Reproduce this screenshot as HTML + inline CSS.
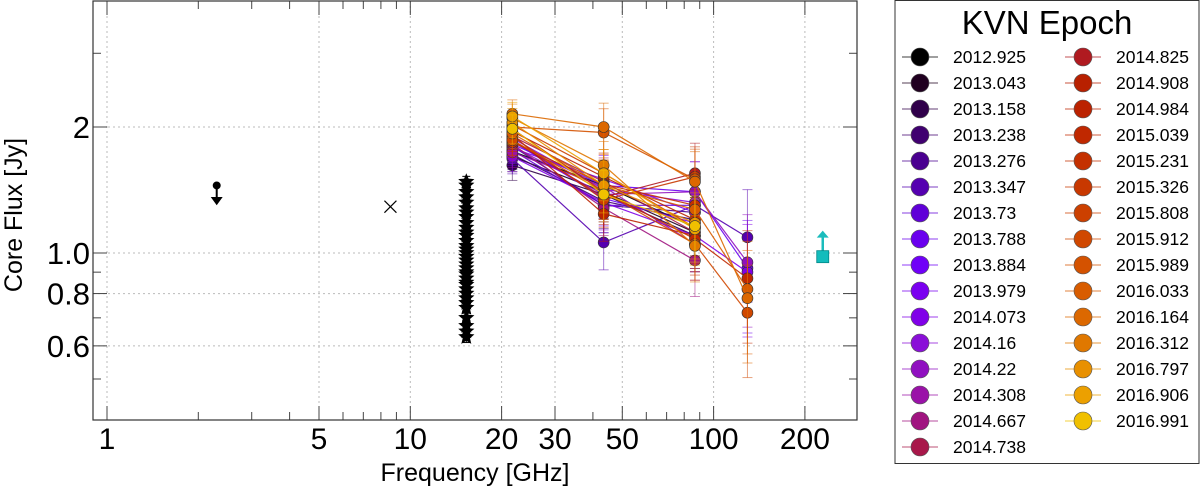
<!DOCTYPE html>
<html><head><meta charset="utf-8"><style>
html,body{margin:0;padding:0;background:#fff;width:1200px;height:491px;overflow:hidden}
svg{display:block;font-family:"Liberation Sans",sans-serif}
</style></head><body>
<svg id="c" width="1200" height="491" viewBox="0 0 1200 491"></svg>
<script>
const epochs=["2012.925","2013.043","2013.158","2013.238","2013.276","2013.347","2013.73","2013.788","2013.884","2013.979","2014.073","2014.16","2014.22","2014.308","2014.667","2014.738","2014.825","2014.908","2014.984","2015.039","2015.231","2015.326","2015.808","2015.912","2015.989","2016.033","2016.164","2016.312","2016.797","2016.906","2016.991"];
const colors=["#000000","#200020","#30004a","#400070","#4a0090","#5500b0","#6000d8","#6a00ee","#7000f8","#7a00f0","#8000e8","#8a0fd8","#9010c0","#9a12a8","#a01480","#a8184a","#b01a20","#b82000","#bb2200","#c02800","#c43000","#c83800","#cc4000","#d04800","#d45200","#d85c00","#dc6800","#e07800","#e89000","#eca000","#f0c000"];
const kvnFreqs=[21.7,43.4,86.8,129.3];
const errFrac=[0.08,0.14,0.18,0.3];
const kvnFlux=[
[1.75,1.45,1.15,null],[1.70,1.40,1.12,null],[1.62,1.38,1.10,null],[1.72,1.33,1.20,null],
[1.80,1.30,1.25,null],[1.68,1.06,1.30,1.09],[1.76,1.30,1.30,null],[1.82,1.45,1.40,0.92],
[1.85,1.35,1.18,null],[1.78,1.50,1.25,null],[1.70,1.32,1.10,0.90],[1.88,1.42,1.32,null],
[1.80,1.38,1.40,0.95],[1.74,1.44,1.05,null],[1.82,1.28,0.96,null],[1.90,1.48,1.12,null],
[1.86,1.36,1.55,null],[1.95,1.52,1.20,null],[1.92,1.24,1.10,null],[1.98,1.40,1.08,0.87],
[1.84,1.46,1.30,null],[1.90,1.34,1.52,null],[2.02,1.55,1.15,null],[1.86,1.40,1.05,0.72],
[2.00,1.94,1.50,null],[1.93,1.45,1.27,0.82],[2.15,2.00,1.48,0.78],[2.10,1.62,1.04,null],
[2.05,1.45,1.18,null],[2.12,1.55,1.14,null],[1.98,1.38,1.16,null]];
const ovroFreq=15.3;
const ovroFlux=[1.48,1.45,1.40,1.36,1.32,1.28,1.25,1.22,1.18,1.15,1.12,1.10,1.07,1.04,1.02,1.00,0.98,0.96,0.94,0.92,0.90,0.89,0.87,0.85,0.84,0.82,0.80,0.78,0.76,0.74,0.70,0.67,0.65,0.63];
const limFreq=2.3, limFlux=1.38;
const crossFreq=8.6, crossFlux=1.29;
const smaFreq=229, smaFlux=0.98;
const xTicks=[1,5,10,20,30,50,100,200];
const xMinor=[2,3,4,6,7,8,9,40,60,70,80,90];
const yTicks=[0.6,0.8,1.0,2];
const yTickLabels=["0.6","0.8","1.0","2"];
const yMinor=[0.5,0.7,0.9,3];

const L=93,R=857,T=1,B=420;
const X=f=>107+303.3*Math.log10(f);
const Y=v=>253-418.6*Math.log10(v);
const svg=document.getElementById('c');
const NS="http://www.w3.org/2000/svg";
function mk(tag,attrs,parent){const e=document.createElementNS(NS,tag);for(const k in attrs)e.setAttribute(k,attrs[k]);(parent||svg).appendChild(e);return e;}

const grid=mk('g',{});


xTicks.forEach(t=>mk('line',{x1:X(t),x2:X(t),y1:T,y2:B,stroke:"#bbb","stroke-dasharray":"2,3"},grid));
yTicks.forEach(t=>mk('line',{x1:L,x2:R,y1:Y(t),y2:Y(t),stroke:"#bbb","stroke-dasharray":"2,3"},grid));

const ticks=mk('g',{stroke:"#444","stroke-width":1});


xTicks.forEach(t=>{mk('line',{x1:X(t),x2:X(t),y1:B,y2:B-14},ticks);mk('line',{x1:X(t),x2:X(t),y1:T,y2:T+14},ticks);});
xMinor.forEach(t=>{mk('line',{x1:X(t),x2:X(t),y1:B,y2:B-8},ticks);mk('line',{x1:X(t),x2:X(t),y1:T,y2:T+8},ticks);});
yTicks.forEach(t=>{mk('line',{x1:L,x2:L+14,y1:Y(t),y2:Y(t)},ticks);mk('line',{x1:R,x2:R-14,y1:Y(t),y2:Y(t)},ticks);});
yMinor.forEach(t=>{mk('line',{x1:L,x2:L+8,y1:Y(t),y2:Y(t)},ticks);mk('line',{x1:R,x2:R-8,y1:Y(t),y2:Y(t)},ticks);});

xTicks.forEach(t=>{const e=mk('text',{x:X(t),y:449,"text-anchor":"middle","font-size":30});e.textContent=t;

});
yTicks.forEach((t,i)=>{const e=mk('text',{x:90,y:Y(t)+11,"text-anchor":"end","font-size":31});e.textContent=yTickLabels[i];

});

let xt=mk('text',{x:475,y:481,"text-anchor":"middle","font-size":25});xt.textContent="Frequency [GHz]";


let yt=mk('text',{x:0,y:0,"text-anchor":"middle","font-size":25,transform:"translate(22,215) rotate(-90)"});yt.textContent="Core Flux [Jy]";



const stars=mk('g',{});


function starPath(cx,cy,r){let p="";for(let i=0;i<10;i++){const a=-Math.PI/2+i*Math.PI/5;const rr=i%2?r*0.45:r;p+=(i?"L":"M")+(cx+rr*Math.cos(a)).toFixed(1)+","+(cy+rr*Math.sin(a)).toFixed(1);}return p+"Z";}
ovroFlux.forEach(v=>{const x=X(ovroFreq),y=Y(v);
mk('line',{x1:x,x2:x,y1:Y(v*1.03),y2:Y(v*0.97),stroke:"#000"},stars);
mk('line',{x1:x-4,x2:x+4,y1:Y(v*1.03),y2:Y(v*1.03),stroke:"#000"},stars);
mk('line',{x1:x-4,x2:x+4,y1:Y(v*0.97),y2:Y(v*0.97),stroke:"#000"},stars);
mk('path',{d:starPath(x,y,8.5),fill:"#000"},stars);});

const lim=mk('g',{stroke:"#000","stroke-width":2,fill:"#000"});


{const x=X(limFreq),y=Y(limFlux);mk('circle',{cx:x,cy:y-9,r:3},lim);mk('line',{x1:x,x2:x,y1:y-9,y2:y+6},lim);mk('path',{d:`M${x-5},${y+3}L${x+5},${y+3}L${x},${y+10}Z`,"stroke-width":1},lim);}
const cr=mk('g',{stroke:"#000","stroke-width":1.2});


{const x=X(crossFreq),y=Y(crossFlux);mk('line',{x1:x-6,y1:y-6,x2:x+6,y2:y+6},cr);mk('line',{x1:x-6,y1:y+6,x2:x+6,y2:y-6},cr);}
const sma=mk('g',{});


{const x=X(smaFreq),y=Y(smaFlux);mk('line',{x1:x,x2:x,y1:y,y2:y-20,stroke:"#1bbcbc","stroke-width":2.5},sma);mk('path',{d:`M${x-6},${y-19}L${x+6},${y-19}L${x},${y-26}Z`,fill:"#1bbcbc"},sma);mk('rect',{x:x-6,y:y-6,width:12,height:12,fill:"#13bcbc",stroke:"#088","stroke-width":0.8},sma);}

kvnFlux.forEach((row,i)=>{const g=mk('g',{});


const c=colors[i];
const pts=row.map((v,j)=>v==null?null:[X(kvnFreqs[j]),Y(v)]).filter(p=>p);
mk('polyline',{points:pts.map(p=>p.join(",")).join(" "),fill:"none",stroke:c,"stroke-width":1.2,opacity:0.9},g);
row.forEach((v,j)=>{if(v==null)return;const x=X(kvnFreqs[j]);const e=errFrac[j];const y1=Y(v*(1+e)),y2=Y(v*(1-e));
mk('line',{x1:x,x2:x,y1:y1,y2:y2,stroke:c,opacity:0.5},g);
mk('line',{x1:x-5,x2:x+5,y1:y1,y2:y1,stroke:c,opacity:0.5},g);
mk('line',{x1:x-5,x2:x+5,y1:y2,y2:y2,stroke:c,opacity:0.5},g);});
row.forEach((v,j)=>{if(v==null)return;const m=mk('circle',{cx:X(kvnFreqs[j]),cy:Y(v),r:5.5,fill:c,stroke:"#333","stroke-width":0.6},g);

});
});

mk('rect',{x:L,y:T,width:R-L,height:B-T,fill:"none",stroke:"#333","stroke-width":1.2});

const lg=mk('g',{});


mk('rect',{x:895,y:0.5,width:304,height:463,fill:"#fff",stroke:"#333","stroke-width":1},lg);
const lt=mk('text',{x:1047,y:34,"text-anchor":"middle","font-size":33},lg);lt.textContent="KVN Epoch";


epochs.forEach((ep,i)=>{const col=i<16?0:1;const r=i<16?i:i-16;const mx=col?1083:920;const y=57+r*26;
const e=mk('g',{},lg);


mk('line',{x1:mx-18,x2:mx+18,y1:y,y2:y,stroke:colors[i],"stroke-width":1.2,opacity:0.6},e);
mk('circle',{cx:mx,cy:y,r:9,fill:colors[i],stroke:"#555","stroke-width":0.6},e);
const t=mk('text',{x:mx+33,y:y+6,"font-size":17.5},e);t.textContent=ep;});
</script>
</body></html>
